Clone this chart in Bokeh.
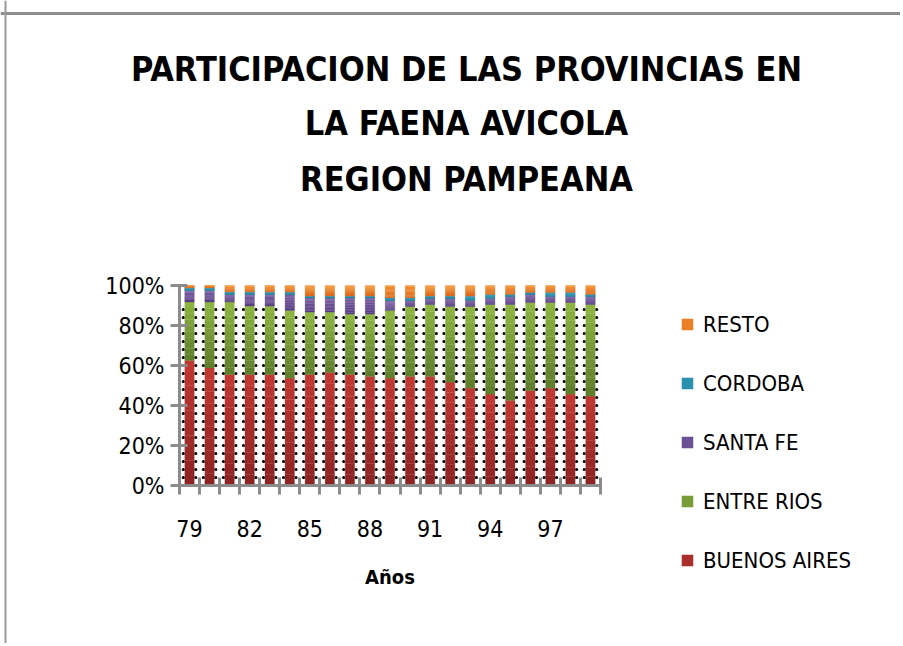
from bokeh.plotting import figure
from bokeh.models import LinearAxis, FixedTicker, Range1d, Label, Legend, LegendItem, Span
from bokeh.embed import file_html
from bokeh.resources import INLINE

# ---------------- data ----------------
years = ["79", "80", "81", "82", "83", "84", "85", "86", "87", "88", "89",
         "90", "91", "92", "93", "94", "95", "96", "97", "98", "99"]
buenos_aires = [62.5, 58.7, 55.5, 55.5, 55.5, 53.7, 55.5, 56.5, 55.5, 54.5, 53.7,
                54.5, 54.5, 51.7, 48.7, 45.7, 42.5, 47.5, 48.7, 45.7, 44.7]
entre_rios = [29.2, 33.0, 36.2, 34.2, 34.2, 33.8, 31.2, 30.2, 30.2, 31.2, 33.8,
              35.0, 36.0, 37.8, 40.8, 44.8, 48.0, 44.0, 42.8, 45.8, 45.8]
santa_fe = [5.8, 5.8, 3.8, 5.8, 5.8, 8.0, 7.1, 7.1, 8.1, 8.1, 5.0,
            3.0, 3.0, 4.0, 3.0, 3.0, 4.0, 4.0, 3.0, 3.0, 4.0]
cordoba = [1.3, 1.3, 1.2, 1.2, 1.2, 1.2, 0.9, 0.9, 0.9, 0.9, 1.3,
           1.3, 1.2, 1.2, 2.2, 2.0, 1.0, 1.0, 2.0, 2.0, 1.0]
resto = [1.2, 1.2, 3.3, 3.3, 3.3, 3.3, 5.3, 5.3, 5.3, 5.3, 6.2,
         6.2, 5.3, 5.3, 5.3, 4.5, 4.5, 3.5, 3.5, 3.5, 4.5]
series_names = ["BUENOS AIRES", "ENTRE RIOS", "SANTA FE", "CORDOBA", "RESTO"]
y_ticks = [0, 20, 40, 60, 80, 100]
y_tick_labels = ["0%", "20%", "40%", "60%", "80%", "100%"]
x_label_every = 3
title_lines = ["PARTICIPACION DE LAS PROVINCIAS EN", "LA FAENA AVICOLA", "REGION PAMPEANA"]
x_title = "Años"

# ---------------- layout (canvas pixels) ----------------
W, H = 900, 643
AX_LEFT_PX, AX_RIGHT_PX = 179, 600     # canvas x of the plotting box edges
AX_TOP_PX, AX_BOT_PX = 285, 485        # canvas y of 100% and 0%
n = len(years)
PXU_X = (AX_RIGHT_PX - AX_LEFT_PX) / n
PXU_Y = (AX_BOT_PX - AX_TOP_PX) / 100.0


def xd(px):
    return 0.5 + (px - AX_LEFT_PX) / PXU_X


def yd(py):
    return (AX_BOT_PX - py) / PXU_Y


TXT = "DejaVu Sans Condensed"
TITLE_FONT = "DejaVu Sans Condensed"
TITLE_SIZE = 34
AXIS_GRAY = "#8C8C8C"
grad = {
    "BUENOS AIRES": ((139, 34, 34), (196, 56, 50)),
    "ENTRE RIOS": ((94, 124, 44), (143, 182, 66)),
    "SANTA FE": ((84, 60, 128), (126, 96, 166)),
    "CORDOBA": ((34, 124, 150), (48, 164, 196)),
    "RESTO": ((218, 104, 28), (246, 146, 48)),
}

p = figure(width=W, height=H, output_backend="svg", toolbar_location=None,
           x_range=Range1d(xd(0), xd(W)), y_range=Range1d(yd(H), yd(0)),
           x_axis_type=None, y_axis_type=None, min_border=0)
p.outline_line_color = None
p.background_fill_color = "white"
p.border_fill_color = "white"

# chart-area border (top and left)
p.add_layout(Span(location=yd(13), dimension="width", line_color="#8E8E8E", line_width=3))
p.add_layout(Span(location=xd(5), dimension="height", line_color="#9A9A9A", line_width=2))

xs = list(range(1, n + 1))
data = [buenos_aires, entre_rios, santa_fe, cordoba, resto]

# dotted lines beside each bar (behind bars)
ba_er = [a + b for a, b in zip(buenos_aires, entre_rios)]
for off in (-0.31, 0.31):
    xx = [x + off for x in xs]
    p.segment(x0=xx, y0=[0] * n, x1=xx, y1=ba_er, line_color="black",
              line_width=3.2, line_dash="0 8", line_cap="round")

# stacked bars with vertical gradient (drawn as thin bands)
NB = 10
BAR_W = 0.47
legend_renderers = {}
bottom = [0.0] * n
for name, vals in zip(series_names, data):
    c0, c1 = grad[name]
    for k in range(NB):
        t = (k + 0.5) / NB
        col = "#%02x%02x%02x" % tuple(int(round(c0[i] + (c1[i] - c0[i]) * t)) for i in range(3))
        b = [bo + v * k / NB for bo, v in zip(bottom, vals)]
        tp = [bo + v * (k + 1) / NB for bo, v in zip(bottom, vals)]
        r = p.vbar(x=xs, bottom=b, top=tp, width=BAR_W, fill_color=col,
                   line_color=col, line_width=0.3)
        if k == NB // 2:
            legend_renderers[name] = r
    bottom = [bo + v for bo, v in zip(bottom, vals)]

# y axis
yaxis = LinearAxis(ticker=FixedTicker(ticks=y_ticks), fixed_location=0.5, bounds=(0, 100),
                   major_label_overrides={t: l for t, l in zip(y_ticks, y_tick_labels)})
yaxis.axis_line_color = AXIS_GRAY
yaxis.axis_line_width = 3
yaxis.major_tick_line_color = AXIS_GRAY
yaxis.major_tick_line_width = 3
yaxis.major_tick_in = 8
yaxis.major_tick_out = 9
yaxis.minor_tick_line_color = None
yaxis.major_label_standoff = 6
yaxis.major_label_text_font = TXT
yaxis.major_label_text_font_size = "23px"
yaxis.major_label_text_color = "black"
p.add_layout(yaxis, "left")

# x axis: labels every 3 years, ticks at category boundaries
label_pos = xs[::x_label_every]
boundaries = [x - 0.5 for x in xs] + [xs[-1] + 0.5]
xaxis = LinearAxis(ticker=FixedTicker(ticks=label_pos, minor_ticks=boundaries),
                   fixed_location=0, bounds=(0.5, n + 0.5),
                   major_label_overrides={x: years[x - 1] for x in label_pos})
xaxis.axis_line_color = AXIS_GRAY
xaxis.axis_line_width = 3
xaxis.major_tick_line_color = None
xaxis.major_tick_in = 0
xaxis.major_tick_out = 0
xaxis.minor_tick_line_color = AXIS_GRAY
xaxis.minor_tick_line_width = 3
xaxis.minor_tick_in = 8
xaxis.minor_tick_out = 9
xaxis.major_label_standoff = 25
xaxis.major_label_text_font = TXT
xaxis.major_label_text_font_size = "23px"
xaxis.major_label_text_color = "black"
xaxis.axis_label = x_title
xaxis.axis_label_text_font = TXT
xaxis.axis_label_text_font_style = "bold"
xaxis.axis_label_text_font_size = "20px"
xaxis.axis_label_text_color = "black"
xaxis.axis_label_standoff = 25
p.add_layout(xaxis, "below")

# title lines (target baselines at y 82, 136, 192)
shift = 0.4 * TITLE_SIZE
for line, py in zip(title_lines, [82, 136, 192]):
    p.add_layout(Label(x=xd(466), y=yd(py - shift), text=line, text_align="center",
                       text_baseline="alphabetic", text_font=TITLE_FONT,
                       text_font_style="bold", text_font_size=f"{TITLE_SIZE}px",
                       text_color="black"))

# legend
items = [LegendItem(label=nm, renderers=[legend_renderers[nm]]) for nm in reversed(series_names)]
legend = Legend(items=items, location=(680, 70), orientation="vertical")
legend.background_fill_alpha = 0
legend.border_line_color = None
legend.padding = 0
legend.margin = 0
legend.spacing = 33
legend.glyph_width = 14
legend.glyph_height = 14
legend.label_height = 26
legend.label_standoff = 9
legend.label_text_font = TXT
legend.label_text_font_size = "22px"
legend.label_text_color = "black"
legend.label_text_baseline = "middle"
p.add_layout(legend, "center")

open("out.html", "w").write(file_html(p, INLINE))
